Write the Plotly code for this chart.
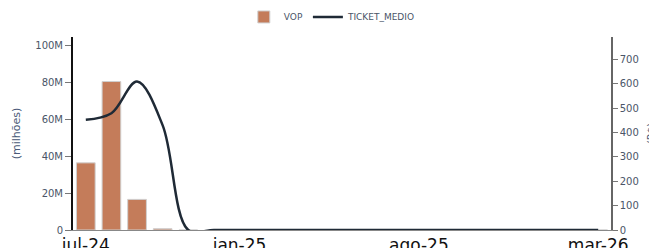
import plotly.graph_objects as go

months = ["jul-24", "ago-24", "set-24", "out-24", "nov-24", "dez-24", "jan-25",
          "fev-25", "mar-25", "abr-25", "mai-25", "jun-25", "jul-25", "ago-25",
          "set-25", "out-25", "nov-25", "dez-25", "jan-26", "fev-26", "mar-26"]
vop = [36.4e6, 80.5e6, 16.6e6, 0.7e6, 0, 0, 0, 0, 0, 0, 0, 0, 0, 0, 0, 0, 0, 0, 0, 0, 0]
ticket = [453, 480, 610, 430, 0, 0, 0, 0, 0, 0, 0, 0, 0, 0, 0, 0, 0, 0, 0, 0, 0]
tick_labels = ["jul-24", "jan-25", "ago-25", "mar-26"]

font_family = "DejaVu Sans"

fig = go.Figure()
fig.add_trace(go.Bar(
    x=months, y=vop, name="VOP",
    marker=dict(color="#c47c5a", line=dict(color="#d0d0d0", width=1)),
    yaxis="y",
))
fig.add_trace(go.Scatter(
    x=months, y=ticket, name="TICKET_MEDIO", mode="lines",
    line=dict(color="#1f2a36", width=2.5, shape="spline", smoothing=1),
    yaxis="y2",
))

fig.update_layout(
    width=657, height=248,
    margin=dict(l=65, r=54, t=29, b=26),
    paper_bgcolor="white", plot_bgcolor="white",
    font=dict(family=font_family, size=10, color="#4a5568"),
    bargap=0.27,
    showlegend=True,
    legend=dict(orientation="h", x=0.482, xanchor="center",
                yref="container", y=0.964, yanchor="middle",
                font=dict(size=9, color="#4a5568"),
                bgcolor="rgba(0,0,0,0)"),
    xaxis=dict(
        type="category", categoryorder="array", categoryarray=months,
        range=[-0.5, 20.5], automargin=False,
        tickmode="array", tickvals=tick_labels, ticktext=tick_labels,
        tickfont=dict(size=17, color="#111111"),
        showgrid=False, showline=True, linecolor="#888888", linewidth=1,
        ticks="", ticklen=0, zeroline=False,
    ),
    yaxis=dict(
        range=[0, max(vop) * 1.3], automargin=False,
        tickformat="~s", showgrid=False, zeroline=False,
        showline=True, linecolor="#111111", linewidth=2,
        ticks="outside", ticklen=6, tickcolor="#777777",
        tickfont=dict(size=10, color="#4a5568"),
        title=dict(text="(milhões)", font=dict(size=11, color="#4a5a78"), standoff=12),
    ),
    yaxis2=dict(
        overlaying="y", side="right", automargin=False,
        range=[0, max(ticket) * 1.3],
        showgrid=False, zeroline=False,
        showline=True, linecolor="#666666", linewidth=1.5,
        ticks="outside", ticklen=5, tickcolor="#777777",
        dtick=100,
        tickfont=dict(size=10, color="#4a5568"),
        title=dict(text="(R$)", font=dict(size=10, color="#4a5a78"), standoff=10),
    ),
)

fig.write_html("out.html")
